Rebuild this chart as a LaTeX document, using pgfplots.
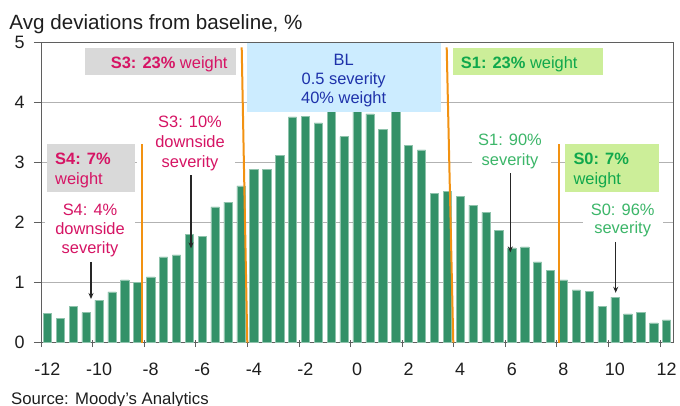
\documentclass[border=0pt]{standalone}
\usepackage{pgfplots}
\pgfplotsset{compat=1.18}
\usetikzlibrary{arrows.meta}
\usepackage{fontspec}
\setmainfont{Liberation Sans}
\definecolor{barc}{RGB}{51,145,104}
\definecolor{orng}{RGB}{242,146,18}
\definecolor{mag}{RGB}{214,20,100}
\definecolor{grn}{RGB}{16,168,76}
\definecolor{lgrn}{RGB}{60,182,105}
\definecolor{gbox}{RGB}{217,217,217}
\definecolor{bbox}{RGB}{204,236,255}
\definecolor{bltxt}{RGB}{30,50,170}
\definecolor{grbox}{RGB}{204,238,153}
\definecolor{gridc}{RGB}{178,178,178}
\definecolor{axc}{RGB}{95,95,95}
\definecolor{txt}{RGB}{30,30,30}
\pgfplotstableread{
x y
-11.75 0.49
-11.25 0.41
-10.75 0.61
-10.25 0.50
-9.75 0.71
-9.25 0.845
-8.75 1.045
-8.25 1.005
-7.75 1.095
-7.25 1.43
-6.75 1.46
-6.25 1.80
-5.75 1.77
-5.25 2.26
-4.75 2.34
-4.25 2.61
-3.75 2.88
-3.25 2.88
-2.75 3.12
-2.25 3.76
-1.75 3.77
-1.25 3.66
-0.75 3.90
-0.25 3.43
0.25 3.90
0.75 3.81
1.25 3.55
1.75 3.90
2.25 3.28
2.75 3.21
3.25 2.48
3.75 2.52
4.25 2.44
4.75 2.29
5.25 2.17
5.75 1.87
6.25 1.58
6.75 1.595
7.25 1.345
7.75 1.20
8.25 1.045
8.75 0.88
9.25 0.86
9.75 0.60
10.25 0.76
10.75 0.48
11.25 0.505
11.75 0.33
12.25 0.38
}\devdata
\begin{document}
\begin{tikzpicture}
\useasboundingbox (0,0) rectangle (680bp,406bp);
\begin{axis}[
  at={(41bp,63.3bp)}, anchor=south west,
  scale only axis, width=632bp, height=300.4bp,
  xmin=-12, xmax=12.5, ymin=0, ymax=5,
  xtick={-12,-10,...,12},
  xticklabels={-12,-10,-8,-6,-4,-2,0,2,4,6,8,10,12},
  ytick={0,1,2,3,4,5}, yticklabels={0,1,2,3,4,5},
  tick pos=left, tick align=outside, major tick length=7bp,
  x tick style={yshift=2.7bp},
  axis line style={axc, line width=0.9bp},
  ymajorgrids, grid style={gridc, line width=0.8bp},
  tick style={axc, line width=0.9bp},
  ticklabel style={font=\fontsize{18}{20}\selectfont, text=txt},
  xticklabel style={xshift=6.45bp, yshift=-10bp},
  yticklabel style={xshift=-6bp},
  clip=false,
  ybar, bar width=8.3bp,
]
\addplot[fill=barc, draw=barc!55!white, line width=0.5bp] table[x=x,y=y] {\devdata};

% boxes
\fill[gbox] (axis cs:-10.294,4.456) rectangle (axis cs:-4.441,4.912);
\fill[bbox] (axis cs:-4.026,3.841) rectangle (axis cs:3.495,4.985);
\fill[grbox] (axis cs:3.983,4.456) rectangle (axis cs:9.775,4.912);
\fill[gbox] (axis cs:-11.756,2.511) rectangle (axis cs:-8.356,3.304);
\fill[grbox] (axis cs:8.325,2.511) rectangle (axis cs:11.946,3.304);
% white backgrounds of annotations
\fill[white] (axis cs:-8.278,2.838) rectangle (axis cs:-4.479,3.870);
\fill[white] (axis cs:4.696,2.838) rectangle (axis cs:7.771,3.570);
\fill[white] (axis cs:9.023,1.708) rectangle (axis cs:12.124,2.406);
\fill[white] (axis cs:-11.845,1.375) rectangle (axis cs:-8.356,2.406);

\begin{scope}[every node/.style={inner sep=0, font=\fontsize{16.5}{19.3}\selectfont}]
\node[anchor=base east, text=mag] at (axis cs:-4.762,4.563) {\textbf{S3: 23\%} weight};
\node[anchor=base west, text=grn] at (axis cs:4.270,4.563) {\textbf{S1: 23\%} weight};
\node[anchor=base, text=bltxt] at (axis cs:-0.266,4.618) {BL};
\node[anchor=base, text=bltxt] at (axis cs:-0.266,4.297) {0.5 severity};
\node[anchor=base, text=bltxt] at (axis cs:-0.266,3.976) {40\% weight};
\node[anchor=base west, text=mag] at (axis cs:-11.457,2.966) {\textbf{S4: 7\%}};
\node[anchor=base west, text=mag] at (axis cs:-11.457,2.639) {weight};
\node[anchor=base west, text=grn] at (axis cs:8.635,2.966) {\textbf{S0: 7\%}};
\node[anchor=base west, text=grn] at (axis cs:8.635,2.639) {weight};
\node[anchor=base, text=mag] at (axis cs:-6.224,3.582) {S3: 10\%};
\node[anchor=base, text=mag] at (axis cs:-6.224,3.249) {downside};
\node[anchor=base, text=mag] at (axis cs:-6.224,2.917) {severity};
\node[anchor=base, text=mag] at (axis cs:-10.1,2.123) {S4: 4\%};
\node[anchor=base, text=mag] at (axis cs:-10.1,1.803) {downside};
\node[anchor=base, text=mag] at (axis cs:-10.1,1.487) {severity};
\node[anchor=base, text=lgrn] at (axis cs:6.181,3.287) {S1: 90\%};
\node[anchor=base, text=lgrn] at (axis cs:6.181,2.955) {severity};
\node[anchor=base, text=lgrn] at (axis cs:10.55,2.123) {S0: 96\%};
\node[anchor=base, text=lgrn] at (axis cs:10.55,1.819) {severity};
\end{scope}

% orange scenario boundaries
\draw[orng, line width=2bp] (axis cs:-8.096,0) -- (axis cs:-8.096,3.31);
\draw[orng, line width=2bp] (axis cs:-4.003,0) -- (axis cs:-4.220,4.917);
\draw[orng, line width=2bp] (axis cs:3.983,0) -- (axis cs:3.727,4.917);
\draw[orng, line width=2bp] (axis cs:8.081,0) -- (axis cs:8.081,3.31);

% arrows
\begin{scope}[-{Stealth[length=6bp,width=5bp]}, line width=1.1bp, black!85]
\draw (axis cs:-6.185,2.789) -- (axis cs:-6.185,1.570);
\draw (axis cs:-10.062,1.347) -- (axis cs:-10.062,0.727);
\draw (axis cs:6.193,2.817) -- (axis cs:6.193,1.503);
\draw (axis cs:10.279,1.679) -- (axis cs:10.279,0.831);
\end{scope}
\end{axis}
\node[anchor=base west, inner sep=0, font=\fontsize{20.7}{24}\selectfont, text=txt] at (9.3bp,376.7bp) {Avg deviations from baseline, \%};
\node[anchor=base west, inner sep=0, font=\fontsize{16.8}{19}\selectfont, text=txt] at (11bp,2bp) {Source: Moody’s Analytics};
\end{tikzpicture}
\end{document}
